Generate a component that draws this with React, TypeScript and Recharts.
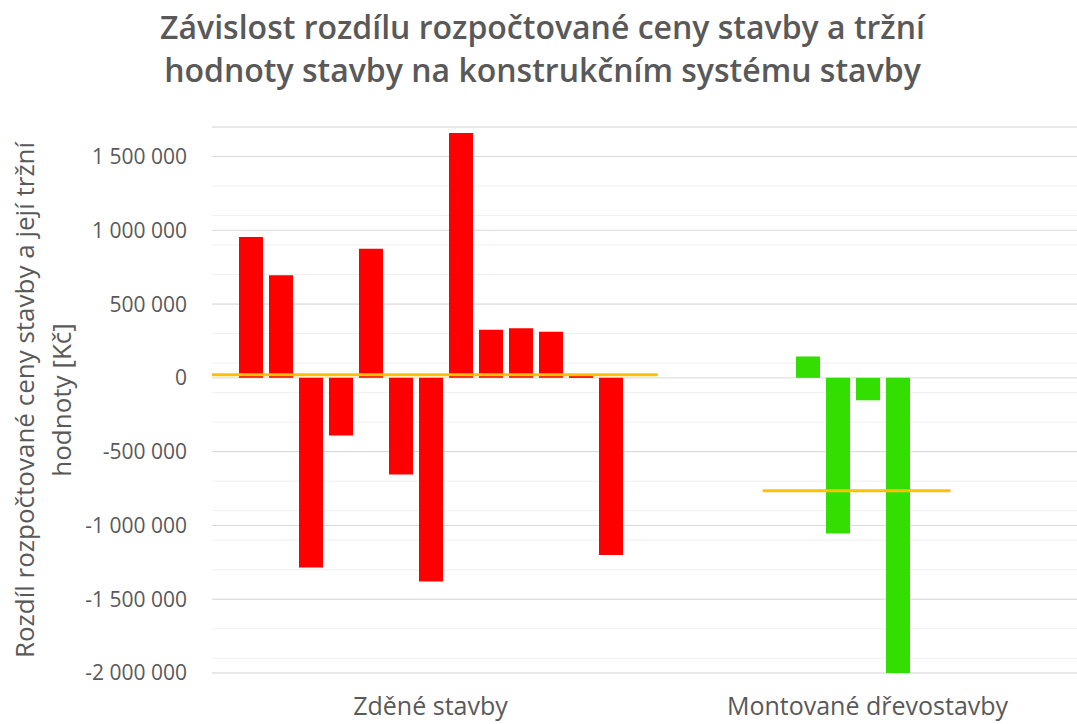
import { ComposedChart, Bar, Cell, Line, XAxis, YAxis, CartesianGrid } from 'recharts';

const categories = ['Zděné stavby', 'Montované dřevostavby'];

// rozdíl rozpočtované ceny stavby a tržní hodnoty [Kč]
const zdeneStavby = [955000, 695000, -1285000, -390000, 875000, -655000, -1380000, 1660000, 326000, 337000, 313000, 20000, -1200000];
const montovaneDrevostavby = [145000, -1055000, -152000, -2000000];
// in the sheet the timber houses sit in columns 5–8
const montovaneFirstColumn = 4;

const yTicks = [-2000000, -1500000, -1000000, -500000, 0, 500000, 1000000, 1500000];
const yMinorTicks = Array.from({ length: 38 }, (_, i) => -2000000 + i * 100000);
const yDomain = [-2000000, 1700000];

// x extent of the average lines (on a 0..2 scale, one unit per category)
const avgSpanZdene = [0, 1.02];
const avgSpanMontovane = [1.26, 1.69];

const barColors = ['#FF0000', '#33DF00'];

const columns = zdeneStavby.map((_, i) => `s${i + 1}`);

const rows = categories.map((name, ci) => {
  const row: Record<string, string | number> = { name };
  if (ci === 0) {
    zdeneStavby.forEach((v, i) => (row[columns[i]] = v));
  } else {
    montovaneDrevostavby.forEach((v, i) => (row[columns[montovaneFirstColumn + i]] = v));
  }
  return row;
});

const mean = (a: number[]) => a.reduce((s, v) => s + v, 0) / a.length;
const avgLineZdene = avgSpanZdene.map((x) => ({ x, y: mean(zdeneStavby) }));
const avgLineMontovane = avgSpanMontovane.map((x) => ({ x, y: mean(montovaneDrevostavby) }));

const fmt = (v: number) => String(v).replace(/\B(?=(\d{3})+(?!\d))/g, '\u00a0');

const grey = '#595959';

export default function App() {
  return (
    <div
      style={{
        position: 'fixed',
        left: 0,
        top: 0,
        width: 1077,
        height: 724,
        overflow: 'hidden',
        background: '#fff',
        fontFamily: '"Open Sans", sans-serif',
      }}
    >
      <div style={{ position: 'absolute', left: 0, top: 0 }}>
        <ComposedChart
          width={1086}
          height={724}
          data={rows}
          barGap={6}
          margin={{ top: 127, right: 0, bottom: 0, left: 0 }}
        >
          <CartesianGrid yAxisId="minor" vertical={false} stroke="#F0F0F0" />
          <CartesianGrid vertical={false} stroke="#D9D9D9" />
          <XAxis
            dataKey="name"
            height={51}
            axisLine={false}
            tickLine={false}
            tickSize={0}
            tickMargin={24}
            tick={{ fill: grey, fontSize: 25 }}
          />
          <XAxis xAxisId="num" type="number" dataKey="x" domain={[0, 2]} allowDataOverflow hide />
          <YAxis
            width={212}
            domain={yDomain}
            ticks={yTicks}
            allowDataOverflow
            axisLine={false}
            tickLine={false}
            tickSize={0}
            tickMargin={25}
            tickFormatter={fmt}
            tick={{ fill: grey, fontSize: 21 }}
          />
          <YAxis yAxisId="minor" domain={yDomain} ticks={yMinorTicks} allowDataOverflow hide />
          {columns.map((k) => (
            <Bar key={k} dataKey={k} barSize={24} isAnimationActive={false}>
              {rows.map((_, i) => (
                <Cell key={i} fill={barColors[i]} />
              ))}
            </Bar>
          ))}
          <Line
            xAxisId="num"
            data={avgLineZdene}
            dataKey="y"
            stroke="#FFC000"
            strokeWidth={3}
            dot={false}
            isAnimationActive={false}
          />
          <Line
            xAxisId="num"
            data={avgLineMontovane}
            dataKey="y"
            stroke="#FFC000"
            strokeWidth={3}
            dot={false}
            isAnimationActive={false}
          />
        </ComposedChart>
      </div>
      <div
        style={{
          position: 'absolute',
          left: 4,
          top: 5,
          width: 1077,
          textAlign: 'center',
          fontSize: 32,
          lineHeight: '43px',
          fontWeight: 600,
          color: grey,
        }}
      >
        Závislost rozdílu rozpočtované ceny stavby a tržní
        <br />
        hodnoty stavby na konstrukčním systému stavby
      </div>
      <svg width={100} height={724} style={{ position: 'absolute', left: 0, top: 0 }}>
        <g transform="rotate(-90)" fill={grey} fontSize={26} textAnchor="middle">
          <text x={-400} y={34}>Rozdíl rozpočtované ceny stavby a její tržní</text>
          <text x={-400} y={71}>hodnoty [Kč]</text>
        </g>
      </svg>
    </div>
  );
}
